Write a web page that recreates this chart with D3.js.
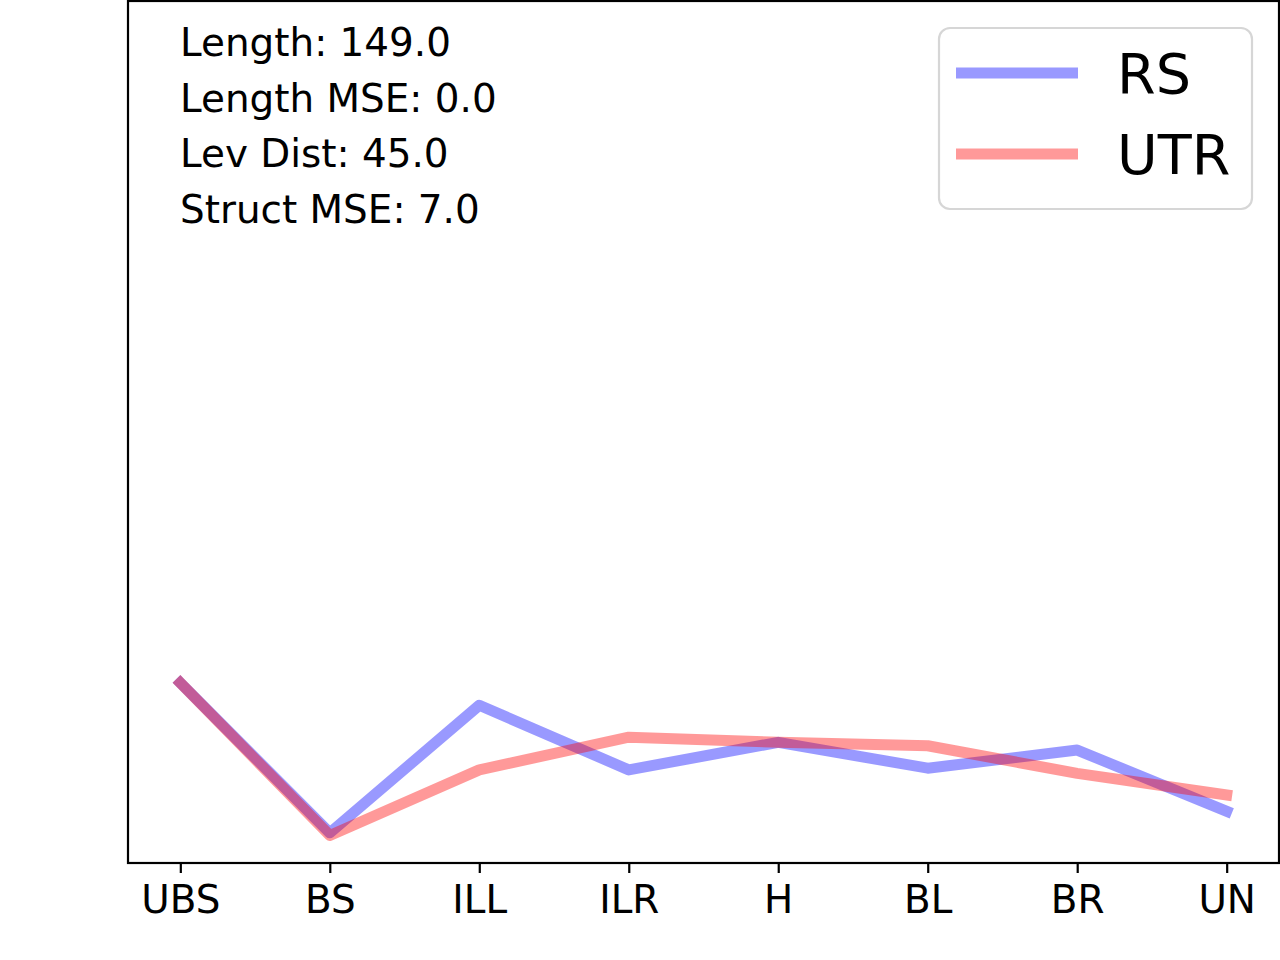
<!DOCTYPE html>
<html>
<head>
<meta charset="utf-8">
<script src="https://cdn.jsdelivr.net/npm/d3@7"></script>
<style>
  body { margin: 0; background: #fff; }
  svg { display: block; }
  text { font-family: "DejaVu Sans", sans-serif; }
</style>
</head>
<body>
<div id="chartDiv"></div>
<script>

var categories = ["UBS", "BS", "ILL", "ILR", "H", "BL", "BR", "UN"];
var rsValues  = [2.09, 0.35, 1.83, 1.08, 1.40, 1.10, 1.31, 0.60];
var utrValues = [2.09, 0.32, 1.08, 1.46, 1.40, 1.36, 1.04, 0.79];
var seriesNames = ["RS", "UTR"];
var seriesColors = ["blue", "red"];
var statLines = ["Length: 149.0", "Length MSE: 0.0", "Lev Dist: 45.0", "Struct MSE: 7.0"];

;(function() {

	var width = 1280;
	var height = 960;
	var margin = { top: 1, right: 1, bottom: 97, left: 128 };
	var chartWidth = width - margin.left - margin.right;
	var chartHeight = height - margin.top - margin.bottom;
	var lineWidth = 11;

	var chart = d3.select("#chartDiv").append("svg")
		.attr("width", width)
		.attr("height", height);

	var plot = chart.append("g")
		.attr("transform", "translate(" + margin.left + "," + margin.top + ")");

	// matplotlib-style 5% margins on each side of the index range
	var n = categories.length - 1;
	var xScale = d3.scaleLinear()
		.domain([-0.05 * n, n * 1.05])
		.range([0, chartWidth]);

	var yScale = d3.scaleLinear()
		.domain([0, 10])
		.range([chartHeight, 0]);

	var line = d3.line()
		.x(function(d, i) { return xScale(i); })
		.y(function(d) { return yScale(d); });

	var series = [rsValues, utrValues];
	series.forEach(function(vals, k) {
		plot.append("path")
			.datum(vals)
			.attr("d", line)
			.attr("fill", "none")
			.attr("stroke", seriesColors[k])
			.attr("stroke-opacity", 0.4)
			.attr("stroke-width", lineWidth)
			.attr("stroke-linejoin", "round")
			.attr("stroke-linecap", "square");
	});

	// x axis
	var xAxis = d3.axisBottom(xScale)
		.tickValues(d3.range(categories.length))
		.tickFormat(function(i) { return categories[i]; })
		.tickSizeInner(10)
		.tickSizeOuter(0)
		.tickPadding(10);

	var xg = plot.append("g")
		.attr("transform", "translate(0," + chartHeight + ")")
		.call(xAxis);
	xg.select(".domain").remove();
	xg.selectAll(".tick line").attr("stroke", "#000").attr("stroke-width", 2.2);
	xg.selectAll(".tick text")
		.attr("fill", "#000")
		.style("font-size", "38.9px")
		.attr("dy", "0.76em");

	// frame
	plot.append("rect")
		.attr("x", 0)
		.attr("y", 0)
		.attr("width", chartWidth)
		.attr("height", chartHeight)
		.attr("fill", "none")
		.attr("stroke", "#000")
		.attr("stroke-width", 2.2);

	// stats text
	chart.append("g").selectAll("text")
		.data(statLines)
		.enter().append("text")
		.attr("x", 180)
		.attr("y", function(d, i) { return 56 + i * 55.5; })
		.style("font-size", "38.9px")
		.attr("fill", "#000")
		.text(function(d) { return d; });

	// legend
	var legend = chart.append("g");
	legend.append("rect")
		.attr("x", 939)
		.attr("y", 28)
		.attr("width", 313)
		.attr("height", 181)
		.attr("rx", 11)
		.attr("fill", "#fff")
		.attr("stroke", "#d6d6d6")
		.attr("stroke-width", 2.2);

	seriesNames.forEach(function(name, k) {
		var ly = 73 + k * 81;
		legend.append("line")
			.attr("x1", 956)
			.attr("x2", 1078)
			.attr("y1", ly)
			.attr("y2", ly)
			.attr("stroke", seriesColors[k])
			.attr("stroke-opacity", 0.4)
			.attr("stroke-width", lineWidth);
		legend.append("text")
			.attr("x", 1117)
			.attr("y", ly + 20)
			.style("font-size", "55.6px")
			.attr("fill", "#000")
			.text(name);
	});

})();
</script>
</body>
</html>
